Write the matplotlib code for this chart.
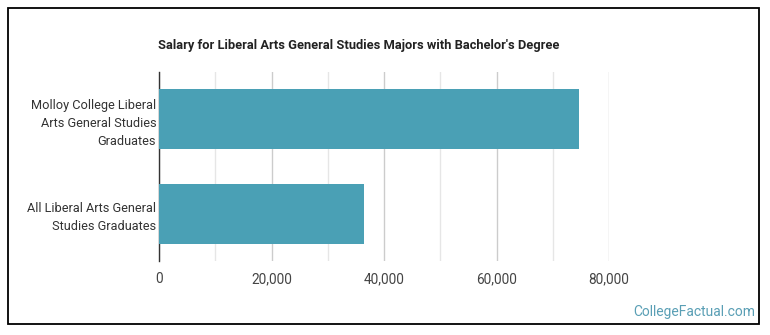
import matplotlib.pyplot as plt
from matplotlib.patches import Rectangle
from matplotlib.ticker import FuncFormatter, MultipleLocator

# data
categories = ["Molloy College Liberal\nArts General Studies\nGraduates",
              "All Liberal Arts General\nStudies Graduates"]
salaries = [74700, 36400]
ticks = [0, 20000, 40000, 60000, 80000]

plt.rcParams['font.family'] = ['Roboto', 'DejaVu Sans']

fig = plt.figure(figsize=(7.7, 3.35), dpi=100)
ax = fig.add_axes([159/770, 1 - 261/335, 450/770, 189/335])

# outer frame
fig.patches.append(Rectangle((8/770, 1 - 324/335), 751/770, 316/335,
                             transform=fig.transFigure, fill=False,
                             edgecolor='black', linewidth=1.3))

ax.barh(range(len(categories)), salaries, height=0.64, color='#4aa0b5', zorder=3)
ax.set_ylim(1.5, -0.5)
ax.set_xlim(0, 80000)

ax.set_yticks(range(len(categories)))
ax.set_yticklabels(categories, fontsize=9.2, color='#333333', linespacing=1.5)
ax.set_xticks(ticks)
ax.xaxis.set_minor_locator(MultipleLocator(10000))
ax.xaxis.set_major_formatter(FuncFormatter(lambda v, p: f"{int(v):,}"))
ax.tick_params(axis='x', labelsize=9.8, labelcolor='#444444', length=0, pad=8)
ax.tick_params(axis='y', length=0, pad=2)
ax.tick_params(axis='x', which='minor', length=0)

ax.grid(axis='x', which='major', color='#cccccc', linewidth=1, zorder=0)
ax.grid(axis='x', which='minor', color='#e6e6e6', linewidth=1, zorder=0)

for s in ['top', 'right', 'bottom']:
    ax.spines[s].set_visible(False)
ax.spines['left'].set_color('#333333')
ax.spines['left'].set_linewidth(1)

fig.text(158/770, 1 - 45/335, "Salary for Liberal Arts General Studies Majors with Bachelor's Degree",
         fontsize=9.3, fontweight='bold', color='#222222', va='center', ha='left')

fig.text(755/770, 1 - 312/335, "CollegeFactual.com", fontsize=10, color='#5a9fb5',
         ha='right', va='center')

fig.savefig("out.png", dpi=100)
